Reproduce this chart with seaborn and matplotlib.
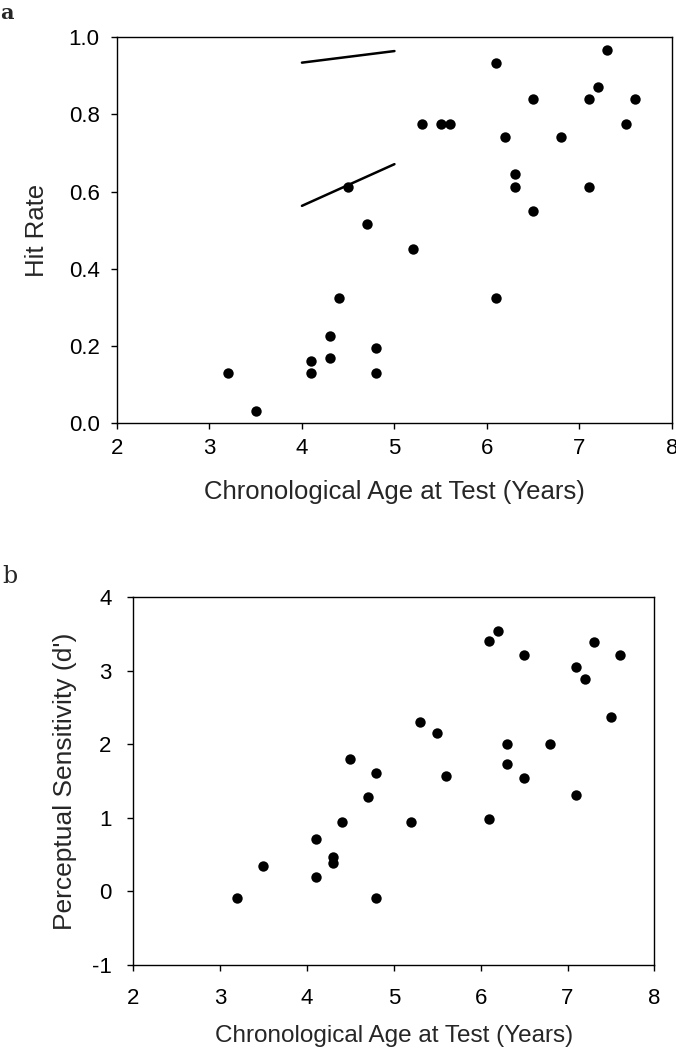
import matplotlib
matplotlib.use("Agg")
import matplotlib.pyplot as plt
import seaborn as sns
import pandas as pd

# Panel a: hit rate by age
age_a = [6.1, 7.3, 7.2, 6.5, 7.1, 7.6, 5.3, 5.5, 5.6, 7.5, 6.2, 6.8, 6.3, 6.3, 7.1,
         4.5, 6.5, 4.7, 5.2, 4.4, 6.1, 4.3, 4.8, 4.1, 4.3, 3.2, 4.1, 4.8, 3.5]
hit_rate = [0.933, 0.968, 0.871, 0.839, 0.839, 0.839, 0.775, 0.775, 0.775, 0.775,
            0.742, 0.742, 0.645, 0.613, 0.613, 0.613, 0.549, 0.516, 0.452, 0.323,
            0.323, 0.226, 0.194, 0.161, 0.168, 0.129, 0.129, 0.129, 0.032]

# two short line segments drawn in panel a
seg_x = [4.0, 5.0]
seg_upper = [0.934, 0.964]
seg_lower = [0.563, 0.671]

# Panel b: perceptual sensitivity (d') by age
age_b = [6.1, 6.2, 6.5, 7.3, 7.6, 7.1, 7.2, 7.5, 5.3, 5.5, 6.3, 6.8, 6.3, 4.5, 4.8,
         5.6, 6.5, 4.7, 7.1, 4.4, 5.2, 6.1, 4.1, 4.3, 4.3, 3.5, 4.1, 3.2, 4.8]
dprime = [3.41, 3.55, 3.22, 3.39, 3.22, 3.06, 2.89, 2.37, 2.31, 2.16, 2.01, 2.01,
          1.74, 1.80, 1.61, 1.57, 1.54, 1.28, 1.31, 0.95, 0.94, 0.99, 0.72, 0.47,
          0.39, 0.35, 0.20, -0.09, -0.09]

x_ticks = [2, 3, 4, 5, 6, 7, 8]
ya_ticks = [0.0, 0.2, 0.4, 0.6, 0.8, 1.0]
yb_ticks = [-1, 0, 1, 2, 3, 4]
x_label = "Chronological Age at Test (Years)"

df_a = pd.DataFrame({"age": age_a, "hit": hit_rate})
df_b = pd.DataFrame({"age": age_b, "d": dprime})

sns.set_style("ticks")
plt.rcParams["font.family"] = ["Liberation Sans", "DejaVu Sans"]
plt.rcParams["axes.unicode_minus"] = False

fig = plt.figure(figsize=(6.76, 10.5), dpi=100)
ax1 = fig.add_axes([0.173, 0.597, 0.821, 0.3676])
ax2 = fig.add_axes([0.197, 0.081, 0.771, 0.350])

sns.scatterplot(data=df_a, x="age", y="hit", ax=ax1, color="black", s=56,
                edgecolor="black", linewidth=0, zorder=3)
ax1.plot(seg_x, seg_upper, color="black", lw=1.8)
ax1.plot(seg_x, seg_lower, color="black", lw=1.8)

sns.scatterplot(data=df_b, x="age", y="d", ax=ax2, color="black", s=56,
                edgecolor="black", linewidth=0, zorder=3)

for ax in (ax1, ax2):
    ax.set_xlim(2, 8)
    ax.set_xticks(x_ticks)
    for sp in ax.spines.values():
        sp.set_visible(True)
        sp.set_color("black")
        sp.set_linewidth(1.0)
    ax.tick_params(direction="out", length=4.5, width=1, labelsize=16, colors="black")

ax1.set_ylim(0, 1.0)
ax1.set_yticks(ya_ticks)
ax1.set_yticklabels([f"{v:.1f}" for v in ya_ticks])
ax1.tick_params(axis="x", pad=6)
ax1.tick_params(axis="y", pad=8)
ax1.set_xlabel(x_label, fontsize=18.5)
ax1.set_ylabel("Hit Rate", fontsize=18.5)
ax1.xaxis.set_label_coords(0.5, -0.148)
ax1.yaxis.set_label_coords(-0.122, 0.5)

ax2.set_ylim(-1, 4)
ax2.set_yticks(yb_ticks)
ax2.tick_params(axis="x", pad=12)
ax2.tick_params(axis="y", pad=11)
ax2.set_xlabel(x_label, fontsize=17.5)
ax2.set_ylabel("Perceptual Sensitivity (d')", fontsize=19)
ax2.xaxis.set_label_coords(0.5, -0.163)
ax2.yaxis.set_label_coords(-0.1075, 0.5)

fig.text(0.0, 0.997, "a", family="DejaVu Serif", fontweight="bold", fontsize=15,
         va="top", ha="left")
fig.text(0.004, 0.462, "b", family="DejaVu Serif", fontsize=17, va="top", ha="left")

fig.savefig("out.png", dpi=100)
